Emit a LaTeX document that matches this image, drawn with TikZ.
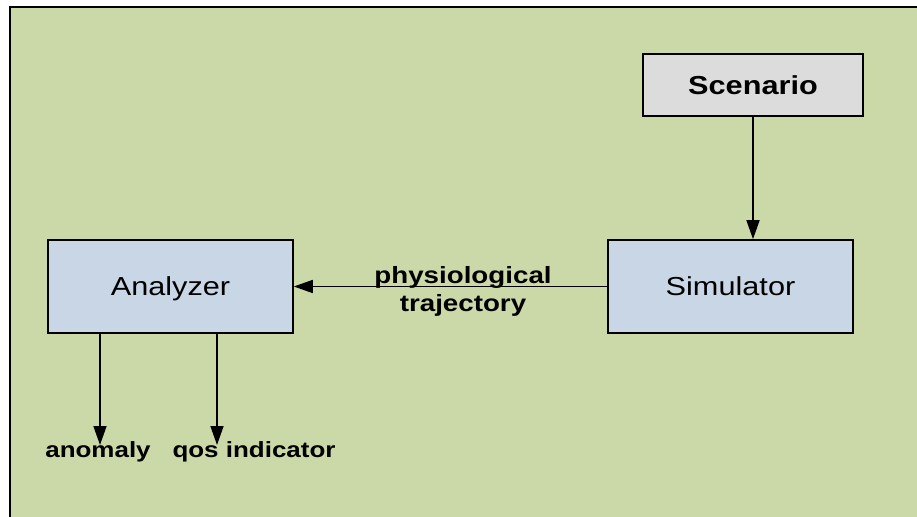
\documentclass[tikz,border=0pt]{standalone}
\usepackage{fontspec}
\setmainfont[FakeStretch=1.18]{Liberation Sans}
\usetikzlibrary{arrows.meta}

\definecolor{pagegreen}{HTML}{CBD9A8}
\definecolor{boxgray}{HTML}{DCDCDC}
\definecolor{boxblue}{HTML}{C8D6E5}

\begin{document}
\begin{tikzpicture}[x=1pt,y=-1pt,
  block/.style={draw=black, line width=1.6pt, minimum width=245pt, minimum height=93pt, inner sep=0pt, text height=18.6pt, text depth=0pt, font=\fontsize{26}{30}\selectfont},
  outlabel/.style={inner sep=0pt, font=\fontsize{22}{28}\selectfont\bfseries},
  flow/.style={black, line width=1.6pt, -{Triangle[length=19pt,width=13pt]}}]
\useasboundingbox (0,0) rectangle (917,516);
\fill [white] (0,0) rectangle (917,516);
\draw [fill=pagegreen, line width=2pt] (10,7) rectangle (930,530);
\node [block, fill=boxgray, minimum width=220pt, minimum height=62pt, font=\fontsize{26}{30}\selectfont\bfseries] (scen) at (753,85) {Scenario};
\node [block, fill=boxblue] (sim) at (730.5,286.5) {Simulator};
\node [block, fill=boxblue] (ana) at (170.5,286.5) {Analyzer};
\node [outlabel, align=center, font=\fontsize{23.5}{28}\selectfont\bfseries] (traj) at (463,291) {physiological\\trajectory};
\node [outlabel, anchor=north] (anom) at (98,441) {anomaly};
\node [outlabel, anchor=north] (qos) at (254,441) {qos indicator};
\coordinate (anomin) at (100,445);
\coordinate (qosin) at (217,445);
\draw [flow] (scen.south) -- (scen.south |- sim.north);
\draw [flow] (sim.west) -- (ana.east);
\draw [flow] (ana.south -| anomin) -- (anomin);
\draw [flow] (ana.south -| qosin) -- (qosin);
\end{tikzpicture}
\end{document}
